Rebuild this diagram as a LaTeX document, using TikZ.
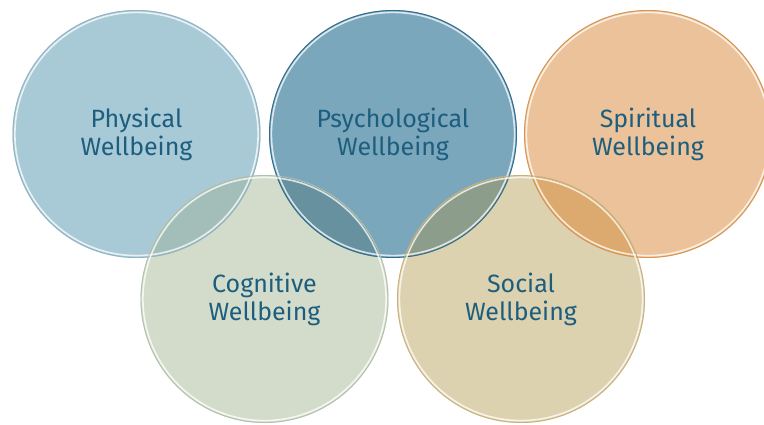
\documentclass[tikz,border=0pt]{standalone}
\usepackage{fontspec}
\setmainfont{Fira Sans}
\usepackage{tikz}

\definecolor{physfill}{HTML}{A8C9D6}
\definecolor{psyfill}{HTML}{7BA7BC}
\definecolor{spifill}{HTML}{EBC29A}
\definecolor{cogfill}{HTML}{D3DCCB}
\definecolor{socfill}{HTML}{DDD2B0}
\definecolor{physcog}{HTML}{A3BEB9}
\definecolor{psycog}{HTML}{67919F}
\definecolor{psysoc}{HTML}{8D9D8C}
\definecolor{spisoc}{HTML}{DCA96E}
\definecolor{physrim}{HTML}{8FB4C3}
\definecolor{psyrim}{HTML}{2F6C8C}
\definecolor{spirim}{HTML}{D8944E}
\definecolor{cogrim}{HTML}{B3C0AA}
\definecolor{socrim}{HTML}{C9B27A}
\definecolor{labelblue}{HTML}{1D5E7E}

\begin{document}
\begin{tikzpicture}[x=1pt, y=-1pt,
    bubble/.style={circle, minimum size=248pt, inner sep=0pt, align=center,
      text=labelblue, font=\fontsize{25}{28}\selectfont}]
  \useasboundingbox (0,0) rectangle (764,425);
  \clip (0,0) rectangle (764,425);
  % the five circles
  \node[bubble, fill=physfill] (phys) at (136.5,134) {Physical\\Wellbeing};
  \node[bubble, fill=psyfill] (psy) at (393,134) {Psychological\\Wellbeing};
  \node[bubble, fill=spifill] (spi) at (648,134) {Spiritual\\Wellbeing};
  \node[bubble, fill=cogfill] (cog) at (264.5,299) {Cognitive\\Wellbeing};
  \node[bubble, fill=socfill] (soc) at (521,299) {Social\\Wellbeing};
  % overlaps
  \foreach \a/\b/\c in {cog/phys/physcog, cog/psy/psycog, soc/psy/psysoc, soc/spi/spisoc}{
    \begin{scope}
      \clip (\a) circle[radius=124pt];
      \fill[\c] (\b) circle[radius=124pt];
    \end{scope}
  }
  % glassy rims
  \foreach \n/\c in {phys/physrim, psy/psyrim, spi/spirim, cog/cogrim, soc/socrim}{
    \draw[\c, line width=0.9pt] (\n) circle[radius=123.5pt];
    \draw[white, opacity=0.75, line width=1.6pt] (\n) circle[radius=121.6pt];
  }
\end{tikzpicture}
\end{document}
